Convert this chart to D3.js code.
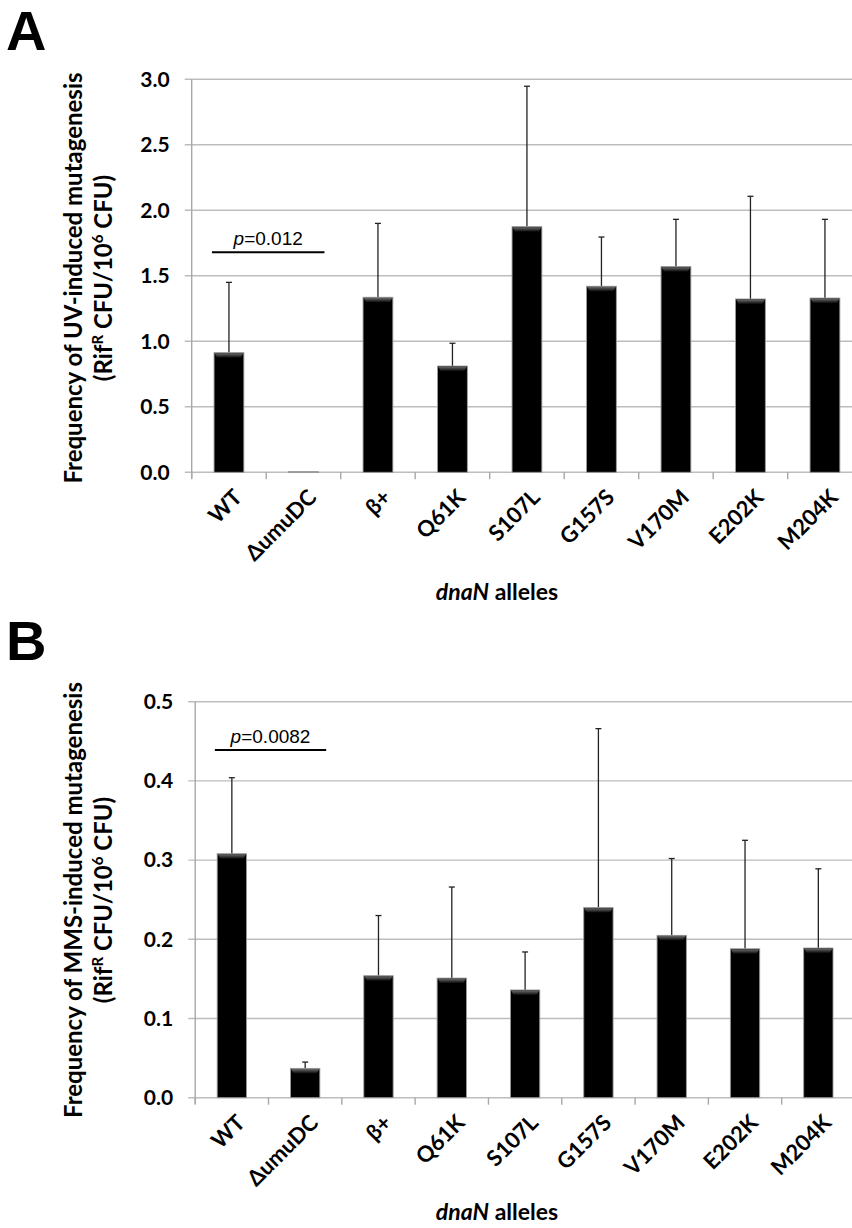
<!DOCTYPE html>
<html>
<head>
<meta charset="utf-8">
<script src="https://cdn.jsdelivr.net/npm/d3@7"></script>
<style>
  html, body { margin: 0; padding: 0; background: #fff; }
  svg { display: block; }
</style>
</head>
<body>
<svg id="chart" width="852" height="1228"></svg>
<script>
// ---------------- DATA ----------------
const categories = ["WT", "\u0394umuDC", "\u03B2+", "Q61K", "S107L", "G157S", "V170M", "E202K", "M204K"];

// Panel A: UV-induced mutagenesis (RifR CFU / 10^6 CFU)
const uvMeans = [0.913, 0.004, 1.336, 0.811, 1.875, 1.420, 1.570, 1.323, 1.330];
const uvErrors = [0.537, 0.000, 0.564, 0.174, 1.072, 0.376, 0.361, 0.784, 0.601];
const uvTicks = [0.0, 0.5, 1.0, 1.5, 2.0, 2.5, 3.0];
const uvPValue = "0.012";

// Panel B: MMS-induced mutagenesis
const mmsMeans = [0.308, 0.037, 0.154, 0.151, 0.136, 0.240, 0.205, 0.188, 0.189];
const mmsErrors = [0.096, 0.008, 0.076, 0.115, 0.048, 0.226, 0.097, 0.137, 0.100];
const mmsTicks = [0.0, 0.1, 0.2, 0.3, 0.4, 0.5];
const mmsPValue = "0.0082";

// ---------------- DRAWING ----------------
const svg = d3.select("#chart");
const defs = svg.append("defs");
const grad = defs.append("linearGradient").attr("id", "bevel")
  .attr("x1", 0).attr("y1", 0).attr("x2", 0).attr("y2", 1);
grad.append("stop").attr("offset", "0%").attr("stop-color", "#6a6a6a");
grad.append("stop").attr("offset", "100%").attr("stop-color", "#0a0a0a");

const tickFont = "Lato, 'Open Sans', sans-serif";

function drawPanel(cfg) {
  const g = svg.append("g");
  const x = d3.scaleBand().domain(categories).range(cfg.xRange).paddingInner(0).paddingOuter(0);
  const y = d3.scaleLinear().domain([cfg.ticks[0], cfg.ticks[cfg.ticks.length - 1]]).range(cfg.yRange);
  const barW = x.bandwidth() * 0.4;

  // gridlines
  g.append("g").selectAll("line").data(cfg.ticks).join("line")
    .attr("x1", cfg.xRange[0] - 7).attr("x2", cfg.xRange[1])
    .attr("y1", d => y(d)).attr("y2", d => y(d))
    .attr("stroke", "#bdbdbd").attr("stroke-width", 1.4);

  // y axis line
  g.append("line")
    .attr("x1", cfg.xRange[0]).attr("x2", cfg.xRange[0])
    .attr("y1", cfg.yRange[1]).attr("y2", cfg.yRange[0] + 6)
    .attr("stroke", "#a8a8a8").attr("stroke-width", 1.4);

  // y tick labels via d3 axis
  const yAxis = d3.axisLeft(y).tickValues(cfg.ticks).tickFormat(d3.format(".1f")).tickSize(0).tickPadding(22);
  const ya = g.append("g").attr("transform", `translate(${cfg.xRange[0]},0)`).call(yAxis);
  ya.select(".domain").remove();
  ya.selectAll("text").attr("font-family", tickFont).attr("font-weight", "bold")
    .attr("font-size", 21).attr("fill", "#000");

  // x axis ticks at band boundaries
  const bounds = categories.map(c => x(c)).concat([cfg.xRange[1]]);
  g.append("g").selectAll("line").data(bounds).join("line")
    .attr("x1", d => d).attr("x2", d => d)
    .attr("y1", cfg.yRange[0]).attr("y2", cfg.yRange[0] + 7)
    .attr("stroke", "#a8a8a8").attr("stroke-width", 1.4);

  // error bars (upper only)
  const eg = g.append("g");
  categories.forEach((c, i) => {
    const cx = x(c) + x.bandwidth() / 2;
    const top = cfg.means[i] + cfg.errors[i];
    if (cfg.errors[i] <= 0) return;
    eg.append("line").attr("x1", cx).attr("x2", cx)
      .attr("y1", y(cfg.means[i])).attr("y2", y(top))
      .attr("stroke", "#222").attr("stroke-width", 1.3);
    eg.append("line").attr("x1", cx - 3).attr("x2", cx + 3)
      .attr("y1", y(top)).attr("y2", y(top))
      .attr("stroke", "#222").attr("stroke-width", 1.3);
  });

  // bars
  const bg = g.append("g");
  categories.forEach((c, i) => {
    const bx = x(c) + (x.bandwidth() - barW) / 2;
    const by = y(cfg.means[i]);
    const bh = y(0) - by;
    bg.append("rect").attr("x", bx).attr("y", by).attr("width", barW).attr("height", Math.max(bh, 0.8))
      .attr("fill", "#000").attr("stroke", "#9a9a9a").attr("stroke-width", 0.9);
    const hb = Math.min(5, bh);
    if (hb > 1) {
      bg.append("path")
        .attr("d", `M${bx + 0.6},${by + 0.6} L${bx + barW - 0.6},${by + 0.6} L${bx + barW - 3},${by + hb} L${bx + 3},${by + hb} Z`)
        .attr("fill", "url(#bevel)");
    }
  });

  // x tick labels rotated
  const lg = g.append("g");
  categories.forEach((c, i) => {
    const cx = x(c) + x.bandwidth() / 2 + 9;
    const ty = cfg.yRange[0] + 21;
    lg.append("text").attr("transform", `translate(${cx},${ty}) rotate(-45)`)
      .attr("text-anchor", "end").attr("dy", "0.35em")
      .attr("font-family", tickFont).attr("font-weight", "bold").attr("font-size", 22)
      .text(c);
  });

  // x axis title
  const xt = g.append("text").attr("x", cfg.xTitleX).attr("y", cfg.xTitleY)
    .attr("text-anchor", "middle").attr("font-family", tickFont).attr("font-weight", "bold")
    .attr("font-size", 23);
  xt.append("tspan").attr("font-style", "italic").text("dnaN");
  xt.append("tspan").text(" alleles");

  // y axis title (two lines)
  const cy = cfg.yTitleCenter;
  g.append("text").attr("transform", `translate(${cfg.yTitleX1},${cy}) rotate(-90)`)
    .attr("text-anchor", "middle").attr("font-family", tickFont).attr("font-weight", "bold")
    .attr("font-size", 24).text(cfg.yTitle1);
  const t2 = g.append("text").attr("transform", `translate(${cfg.yTitleX2},${cy}) rotate(-90)`)
    .attr("text-anchor", "middle").attr("font-family", tickFont).attr("font-weight", "bold")
    .attr("font-size", 24);
  t2.append("tspan").text("(Rif");
  t2.append("tspan").attr("font-size", 15).attr("dy", -9).text("R");
  t2.append("tspan").attr("dy", 9).text(" CFU/10");
  t2.append("tspan").attr("font-size", 15).attr("dy", -9).text("6");
  t2.append("tspan").attr("dy", 9).text(" CFU)");

  // p-value annotation
  const x0 = x(categories[0]) + x.bandwidth() / 2 - 17;
  const x1 = x(categories[1]) + x.bandwidth() / 2 + 21;
  const py = y(cfg.pLevel);
  g.append("line").attr("x1", x0).attr("x2", x1).attr("y1", py).attr("y2", py)
    .attr("stroke", "#000").attr("stroke-width", 2);
  const pt = g.append("text").attr("x", (x0 + x1) / 2).attr("y", py - 7)
    .attr("text-anchor", "middle").attr("font-family", "'Liberation Sans', Arial, sans-serif")
    .attr("font-size", 19);
  pt.append("tspan").attr("font-style", "italic").text("p");
  pt.append("tspan").text("=" + cfg.pValue);

  // panel letter
  g.append("text").attr("x", cfg.letterX).attr("y", cfg.letterY)
    .attr("font-family", "'Liberation Sans', Arial, sans-serif").attr("font-weight", "bold")
    .attr("font-size", 56).text(cfg.letter);
}

drawPanel({
  means: uvMeans, errors: uvErrors, ticks: uvTicks,
  xRange: [191.7, 862.2], yRange: [472.3, 79.3],
  pLevel: 1.68, pValue: uvPValue,
  xTitleX: 497, xTitleY: 600,
  yTitle1: "Frequency of UV-induced mutagenesis",
  yTitleX1: 82, yTitleX2: 112, yTitleCenter: 278,
  letter: "A", letterX: 6, letterY: 50
});

drawPanel({
  means: mmsMeans, errors: mmsErrors, ticks: mmsTicks,
  xRange: [195.2, 855], yRange: [1097.7, 701.7],
  pLevel: 0.439, pValue: mmsPValue,
  xTitleX: 497, xTitleY: 1220,
  yTitle1: "Frequency of MMS-induced mutagenesis",
  yTitleX1: 82, yTitleX2: 112, yTitleCenter: 900,
  letter: "B", letterX: 6, letterY: 660
});
</script>
</body>
</html>
